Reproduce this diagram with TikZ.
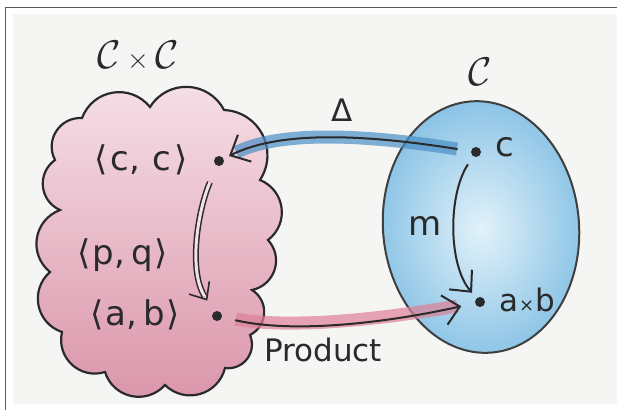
\RequirePackage{fix-cm}
\documentclass[tikz,border=0pt]{standalone}
\usepackage{fontspec}
\setmainfont{DejaVu Sans}
\usetikzlibrary{arrows.meta}
\definecolor{paper}{HTML}{F5F6F4}
\definecolor{framec}{HTML}{5A5A5A}
\definecolor{ink}{HTML}{2A2A2A}
\definecolor{pinkA}{HTML}{F6E0E7}
\definecolor{pinkB}{HTML}{DA94A9}
\definecolor{blueA}{HTML}{E2F2FA}
\definecolor{blueB}{HTML}{8CC4E6}
\definecolor{blueband}{HTML}{4A8FC6}
\definecolor{pinkband}{HTML}{DE7F97}
\begin{document}
\begin{tikzpicture}[x=1pt,y=-1pt,
  lbl/.style={font=\fontsize{34}{36}\selectfont, text=ink, inner sep=0pt},
  lbls/.style={font=\fontsize{31}{33}\selectfont, text=ink, inner sep=0pt},
  ttl/.style={font=\fontsize{40}{42}\selectfont, text=ink, inner sep=0pt},
  dot/.style={circle, fill=ink, minimum size=10pt, inner sep=0pt},
  pen/.style={draw=ink, line width=2pt, line cap=round},
  barb/.style={arrows={-Straight Barb[length=16pt,width=30pt]}},
  band/.style={line width=13pt, opacity=0.7},
  sc/.style={bend left=60, looseness=1.15},
]
\useasboundingbox (0,0) rectangle (617,410);
\fill[white] (0,0) rectangle (617,410);
\fill[paper] (13,14) rectangle (617,404);
\draw[framec, line width=1.6pt] (5.5,410) -- (5.5,7.5) -- (617,7.5);

% cloud C x C
\path[draw=ink, line width=2.2pt, top color=pinkA, bottom color=pinkB]
  (82,118) to[sc] (150,107) to[sc] (224,110) to[sc] (260,180)
  to[sc] (268,240) to[sc] (252,290) to[sc] (250,335) to[sc] (225,368)
  to[sc] (165,385) to[sc] (105,372) to[sc] (62,332) to[sc] (50,272)
  to[sc] (60,210) to[sc] (55,160) to[sc] (82,118) -- cycle;

% ellipse C
\path[draw=ink!90, line width=2pt, inner color=blueA, outer color=blueB,
  rotate around={5:(481,227)}] (481,227) ellipse [x radius=98, y radius=126];

% titles
\node[ttl] (tcc) at (138,56) {$\mathcal{C}\,{\scriptstyle\times}\,\mathcal{C}$};
\node[ttl] (tc) at (480,72) {$\mathcal{C}$};

% points
\node[dot] (cc) at (219,161) {};
\node[dot] (ab) at (217,316) {};
\node[dot] (c) at (476,152) {};
\node[dot] (axb) at (480,302) {};

% labels
\node[lbl] (lcc) at (141,160) {⟨\kern3pt c,\kern12pt c\kern3pt⟩};
\node[lbl] (lpq) at (123,255) {⟨\kern2pt p,\kern6pt q\kern2pt⟩};
\node[lbl] (lab) at (135,315) {⟨\kern2pt a,\kern6pt b\kern2pt⟩};
\node[lbl] (lc) at (505,147) {c};
\node[lbls] (laxb) at (527,300) {a{\fontsize{18}{18}\selectfont\kern1pt×\kern1pt}b};
\node[lbl] (lm) at (425,226) {m};
\node[lbls] (lprod) at (323,350) {Product};
\node[lbls] (ldelta) at (342,110) {Δ};

% blue arrow Delta
\draw[band, blueband, shorten <=14pt, shorten >=14pt]
  (c) .. controls (350,132) and (275,133) .. (cc);
\draw[pen, barb, shorten <=14pt, shorten >=6pt]
  (c) .. controls (350,132) and (275,133) .. (cc);

% pink arrow Product
\draw[band, pinkband, shorten <=14pt, shorten >=18pt]
  (ab) .. controls (300,330) and (400,316) .. (axb);
\draw[pen, barb, shorten <=14pt, shorten >=14pt]
  (ab) .. controls (300,335) and (400,320) .. (axb);

% m arrow
\draw[pen, barb, shorten <=10pt, shorten >=7pt]
  (c) .. controls (448,195) and (448,265) .. (axb);

% double arrow <p,q>: head, then double shaft on top
\draw[draw=pinkA, line width=1pt,
  arrows={-Straight Barb[color=ink, length=14pt, width=24pt, line width=1.6pt]},
  shorten <=18pt, shorten >=13pt]
  (cc) .. controls (198,210) and (188,270) .. (ab);
\draw[draw=ink, line width=1.5pt, double=pinkA, double distance=3pt,
  shorten <=18pt, shorten >=18pt]
  (cc) .. controls (198,210) and (188,270) .. (ab);
\end{tikzpicture}
\end{document}
